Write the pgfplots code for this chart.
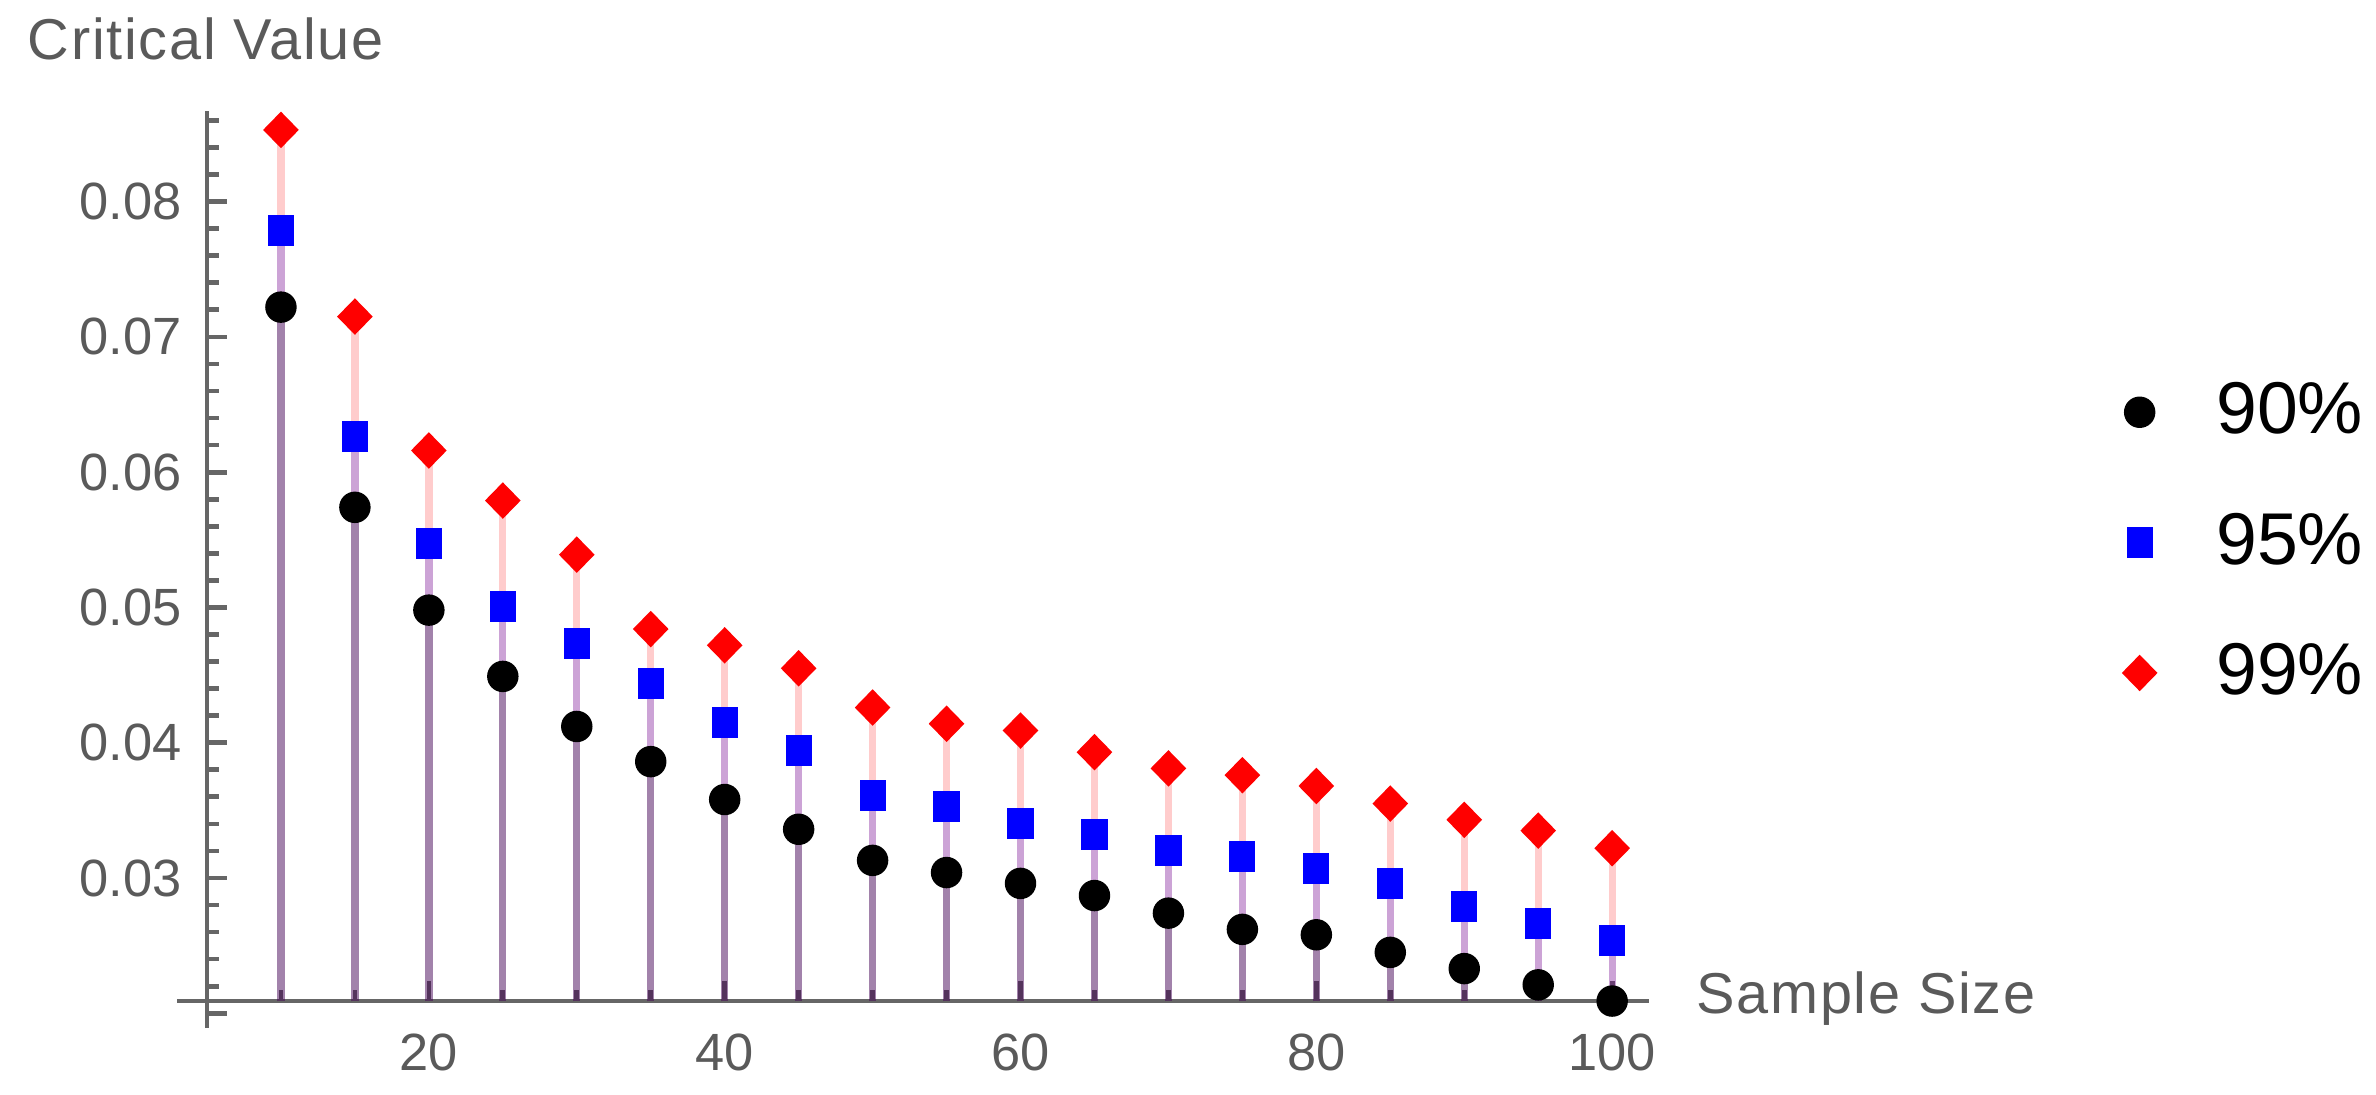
\documentclass[border=0pt]{standalone}
\usepackage{fontspec}
\setmainfont{Liberation Sans}
\newfontfamily\lblfont[LetterSpace=3]{Liberation Sans}
\usepackage{pgfplots}
\pgfplotsset{compat=1.18}
\usepackage{pgfplotstable}
\definecolor{axisgray}{HTML}{666666}
\definecolor{labgray}{HTML}{5A5A5A}
\definecolor{mred}{HTML}{FF0000}
\definecolor{mblue}{HTML}{0000FF}

\pgfplotstableread{
n c90 c95 c99
10 0.0722 0.0779 0.0853
15 0.0574 0.0626 0.0715
20 0.0498 0.0547 0.0616
25 0.0449 0.0501 0.0579
30 0.0412 0.0473 0.0539
35 0.0386 0.0444 0.0484
40 0.0358 0.0415 0.0472
45 0.0336 0.0394 0.0455
50 0.0313 0.0361 0.0426
55 0.0304 0.0353 0.0414
60 0.0296 0.0340 0.0409
65 0.0287 0.0332 0.0393
70 0.0274 0.0320 0.0381
75 0.0262 0.0316 0.0376
80 0.0258 0.0307 0.0368
85 0.0245 0.0296 0.0355
90 0.0233 0.0279 0.0343
95 0.0221 0.0266 0.0335
100 0.0209 0.0254 0.0322
}\data

\begin{document}
\begin{tikzpicture}
\path[use as bounding box] (-39.5pt,-17.75pt) rectangle (413.9pt,191.03pt);
\begin{axis}[
  at={(0,0)}, anchor=south west, scale only axis,
  width=275.2pt, height=169.85pt,
  xmin=5, xmax=102.5, ymin=0.0209, ymax=0.0867,
  axis lines=left,
  axis line style={-, draw=axisgray, line width=0.9pt},
  clip mode=individual,
  xtick={20,40,60,80,100},
  minor xtick={10,15,25,30,35,45,50,55,65,70,75,85,90,95},
  ytick={0.03,0.04,0.05,0.06,0.07,0.08},
  minor ytick={0.022,0.024,0.026,0.028,0.032,0.034,0.036,0.038,0.042,0.044,0.046,0.048,0.052,0.054,0.056,0.058,0.062,0.064,0.066,0.068,0.072,0.074,0.076,0.078,0.082,0.084,0.086},
  tick align=inside,
  major tick length=3.8pt, minor tick length=2.2pt,
  major tick style={draw=axisgray, line width=0.9pt},
  minor tick style={draw=axisgray, line width=0.9pt},
  scaled y ticks=false,
  /pgf/number format/assume math mode=true,
  ticklabel style={font=\fontsize{10}{12}\selectfont, text=labgray},
  yticklabel style={/pgf/number format/fixed, /pgf/number format/fixed zerofill, /pgf/number format/precision=2, xshift=-1.3pt},
  xticklabel style={yshift=-2.7pt},
  legend cell align=left,
  legend style={at={(axis description cs:1.3288,0.7065)}, anchor=north west, draw=none, fill=none, inner sep=0pt, outer sep=0pt, font=\fontsize{14}{16}\selectfont, row sep=9.6pt, column sep=9.5pt},
]
\addplot[ycomb, draw=mred, draw opacity=0.2, line width=1.4pt, forget plot] table[x=n,y=c99]{\data};
\addplot[ycomb, draw=mblue, draw opacity=0.2, line width=1.4pt, forget plot] table[x=n,y=c95]{\data};
\addplot[ycomb, draw=black, draw opacity=0.2, line width=1.4pt, forget plot] table[x=n,y=c90]{\data};

\addplot[only marks, mark=*, mark size=2.8pt, black] table[x=n,y=c90]{\data};
\addlegendentry{90\%}
\addplot[only marks, mark=square*, mark size=2.3pt, mblue, mark options={yscale=1.2}] table[x=n,y=c95]{\data};
\addlegendentry{95\%}
\addplot[only marks, mark=diamond*, mark size=3.2pt, mred, mark options={xscale=1.3}] table[x=n,y=c99]{\data};
\addlegendentry{99\%}

\coordinate (xl) at (axis cs:3,0.0209);
\coordinate (o) at (axis cs:5,0.0209);
\coordinate (yb) at (axis cs:5,0.0189);
\coordinate (t2) at (axis cs:5,0.02);
\end{axis}
\draw[axisgray, line width=0.9pt] (xl) -- (o);
\draw[axisgray, line width=0.9pt] (yb) -- (o);
\draw[axisgray, line width=0.9pt] (t2) -- ++(3.8pt,0);
\node[anchor=base west, font=\lblfont\fontsize{11}{13}\selectfont, text=labgray, inner sep=0pt] at (-34.4pt,179.6pt) {Critical Value};
\node[anchor=base west, font=\lblfont\fontsize{11}{13}\selectfont, text=labgray, inner sep=0pt] at (284pt,-2.3pt) {Sample Size};
\end{tikzpicture}
\end{document}
